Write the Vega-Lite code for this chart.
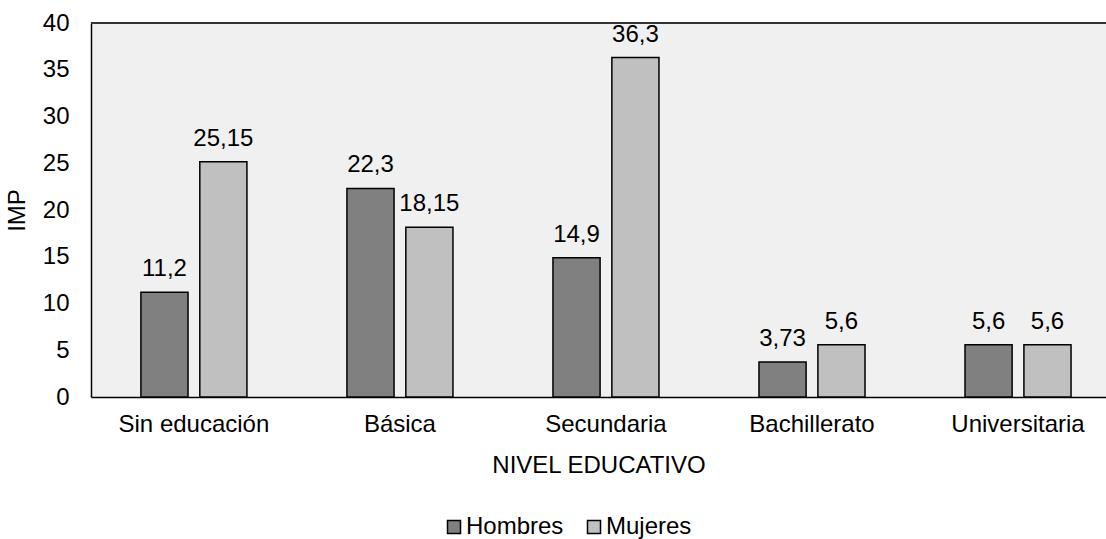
{
  "$schema": "https://vega.github.io/schema/vega-lite/v6.json",
  "autosize": {"type": "none"},
  "width": 1015,
  "height": 374,
  "padding": {"top": 23, "left": 91, "right": 0, "bottom": 142},
  "config": {
    "font": "Liberation Sans",
    "locale": {"number": {"decimal": ",", "thousands": ".", "grouping": [3], "currency": ["", " €"]}},
    "view": {"fill": "#f0f0f0", "stroke": null},
    "axis": {
      "labelFont": "Liberation Sans",
      "titleFont": "Liberation Sans",
      "labelColor": "#000000",
      "titleColor": "#000000",
      "labelFontSize": 24,
      "titleFontSize": 24,
      "titleFontWeight": "normal",
      "grid": false,
      "ticks": false,
      "domainColor": "#000000",
      "domainWidth": 1.5
    },
    "legend": {
      "labelFont": "Liberation Sans",
      "labelFontSize": 24,
      "labelColor": "#000000"
    }
  },
  "data": {
    "values": [
      {"nivel": "Sin educación", "sexo": "Hombres", "imp": 11.2},
      {"nivel": "Sin educación", "sexo": "Mujeres", "imp": 25.15},
      {"nivel": "Básica", "sexo": "Hombres", "imp": 22.3},
      {"nivel": "Básica", "sexo": "Mujeres", "imp": 18.15},
      {"nivel": "Secundaria", "sexo": "Hombres", "imp": 14.9},
      {"nivel": "Secundaria", "sexo": "Mujeres", "imp": 36.3},
      {"nivel": "Bachillerato", "sexo": "Hombres", "imp": 3.73},
      {"nivel": "Bachillerato", "sexo": "Mujeres", "imp": 5.6},
      {"nivel": "Universitaria", "sexo": "Hombres", "imp": 5.6},
      {"nivel": "Universitaria", "sexo": "Mujeres", "imp": 5.6}
    ]
  },
  "encoding": {
    "x": {
      "field": "nivel",
      "type": "nominal",
      "sort": ["Sin educación", "Básica", "Secundaria", "Bachillerato", "Universitaria"],
      "title": "NIVEL EDUCATIVO",
      "scale": {"paddingInner": 0.4854, "paddingOuter": 0.206, "align": 0.588},
      "axis": {"labelAngle": 0, "labelPadding": 15, "titlePadding": 17}
    },
    "xOffset": {
      "field": "sexo",
      "type": "nominal",
      "sort": ["Hombres", "Mujeres"],
      "scale": {"paddingInner": 0.2, "paddingOuter": 0}
    },
    "y": {
      "field": "imp",
      "type": "quantitative",
      "title": "IMP",
      "scale": {"domain": [0, 40], "nice": false},
      "axis": {"values": [0, 5, 10, 15, 20, 25, 30, 35, 40], "labelPadding": 22, "titlePadding": 13}
    }
  },
  "layer": [
    {
      "mark": {"type": "bar", "stroke": "#000000", "strokeWidth": 1.5},
      "encoding": {
        "color": {
          "field": "sexo",
          "type": "nominal",
          "sort": ["Hombres", "Mujeres"],
          "scale": {"domain": ["Hombres", "Mujeres"], "range": ["#808080", "#c0c0c0"]},
          "legend": {
            "title": null,
            "orient": "none",
            "direction": "horizontal",
            "legendX": 351,
            "legendY": 492,
            "symbolType": "square",
            "symbolSize": 169,
            "symbolStrokeColor": "#000000",
            "symbolStrokeWidth": 1.5,
            "symbolOpacity": 1,
            "labelOffset": 0,
            "columnPadding": 18
          }
        }
      }
    },
    {
      "mark": {"type": "text", "fontSize": 24, "baseline": "alphabetic", "dy": -16, "color": "#000000"},
      "encoding": {
        "text": {"field": "imp", "type": "quantitative", "format": ".2~f"}
      }
    },
    {
      "data": {"values": [{"borde": 40}]},
      "mark": {"type": "rule", "stroke": "#333333", "strokeWidth": 2},
      "encoding": {
        "x": null,
        "xOffset": null,
        "y": {"field": "borde", "type": "quantitative"}
      }
    }
  ]
}
